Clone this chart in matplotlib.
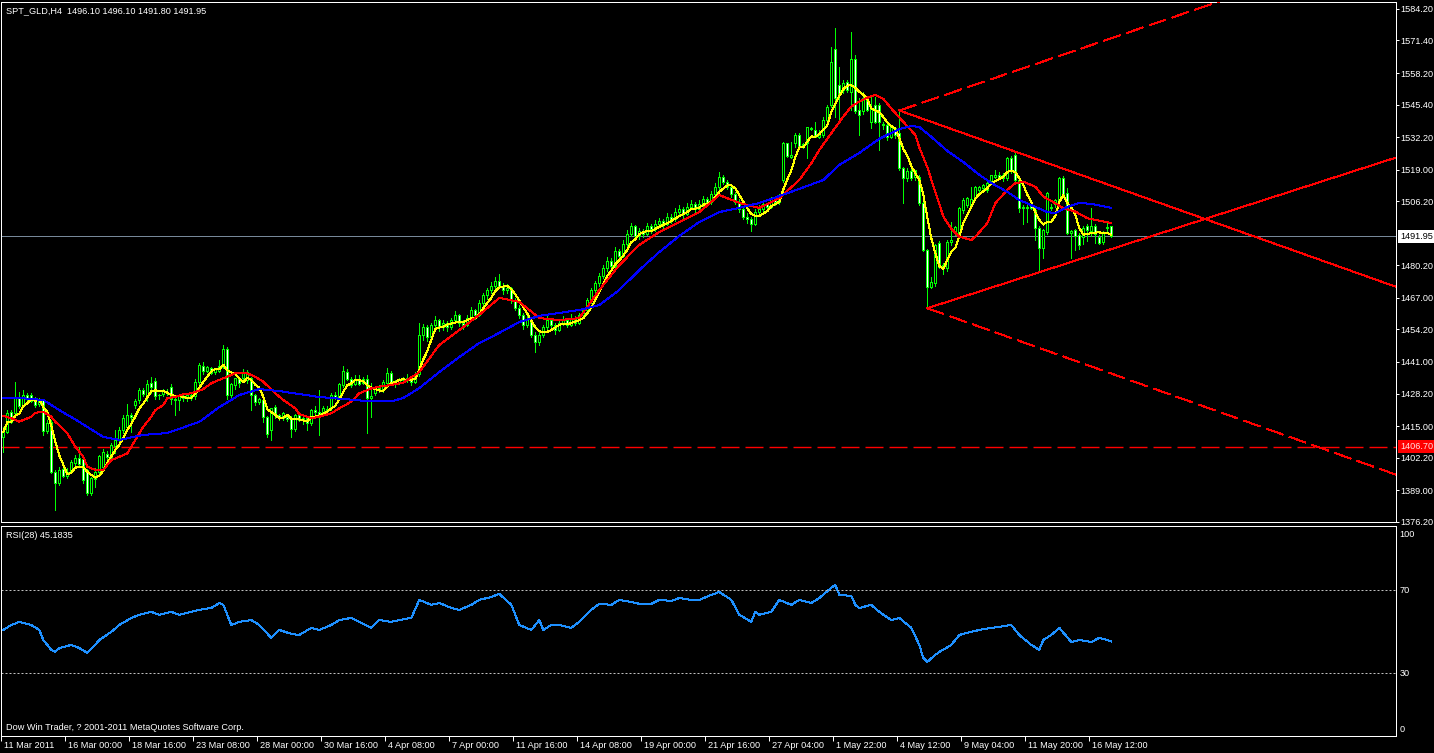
import pandas as pd
import matplotlib
matplotlib.use("Agg")
import matplotlib.pyplot as plt
import matplotlib.transforms as mtransforms
from matplotlib.patches import Rectangle

plt.rcParams['font.family'] = ['Liberation Sans', 'DejaVu Sans']
plt.rcParams['lines.scale_dashes'] = False

PX = 0.72  # one pixel in points at 100 dpi
FS = 6.6

title_text = "SPT_GLD,H4  1496.10 1496.10 1491.80 1491.95"
rsi_text = "RSI(28) 45.1835"
copy_text = "Dow Win Trader, ? 2001-2011 MetaQuotes Software Corp."

# H4 candles, one value per bar
opens = [
    1410.7, 1412.7, 1420.8, 1420.2, 1426.9, 1423.3, 1427.6, 1427.8, 1425.3, 1423.8,
    1425.5, 1413.0, 1416.7, 1396.5, 1392.0, 1397.6, 1394.8, 1396.5, 1400.2, 1401.9,
    1401.8, 1397.2, 1387.7, 1393.5, 1396.5, 1398.5, 1403.6, 1402.6, 1407.0, 1409.4,
    1413.4, 1414.8, 1419.5, 1423.5, 1425.6, 1429.6, 1427.0, 1432.5, 1433.4, 1427.5,
    1428.0, 1429.0, 1431.0, 1426.0, 1425.5, 1427.0, 1426.5, 1427.5, 1427.0, 1433.0,
    1439.5, 1437.5, 1438.4, 1436.8, 1437.5, 1439.1, 1446.3, 1427.6, 1431.7, 1434.4,
    1434.4, 1433.7, 1434.4, 1427.6, 1424.9, 1425.6, 1418.6, 1413.4, 1422.9, 1419.5,
    1418.4, 1418.6, 1418.2, 1413.7, 1419.5, 1417.5, 1418.1, 1416.1, 1421.6, 1420.8,
    1419.5, 1422.0, 1422.2, 1427.6, 1426.9, 1431.7, 1437.1, 1434.0, 1432.0, 1433.5,
    1432.5, 1434.0, 1426.3, 1428.3, 1430.3, 1429.6, 1432.3, 1436.7, 1432.3, 1433.0,
    1433.8, 1434.5, 1434.0, 1433.0, 1436.0, 1452.0, 1455.0, 1451.0, 1456.0, 1458.0,
    1455.0, 1457.0, 1455.0, 1458.0, 1460.0, 1457.0, 1456.0, 1459.0, 1462.0, 1460.0,
    1465.0, 1468.0, 1470.0, 1472.0, 1474.0, 1472.0, 1470.0, 1471.0, 1466.0, 1463.0,
    1460.0, 1456.0, 1458.0, 1452.0, 1449.0, 1452.0, 1455.0, 1458.0, 1456.0, 1454.0,
    1457.0, 1458.0, 1456.0, 1459.0, 1457.0, 1460.0, 1462.0, 1466.0, 1470.0, 1473.0,
    1476.0, 1479.0, 1482.0, 1480.0, 1486.0, 1484.0, 1489.0, 1493.0, 1496.0, 1492.0,
    1494.0, 1493.0, 1496.0, 1495.0, 1497.0, 1498.0, 1497.0, 1500.0, 1499.0, 1502.0,
    1503.0, 1501.0, 1504.0, 1505.0, 1503.0, 1505.0, 1507.0, 1506.0, 1509.0, 1512.0,
    1516.0, 1514.0, 1512.0, 1509.0, 1506.0, 1503.0, 1500.0, 1499.0, 1497.0, 1502.0,
    1503.0, 1505.0, 1504.0, 1507.0, 1506.0, 1514.8, 1529.7, 1524.3, 1529.7, 1533.1,
    1528.3, 1529.7, 1536.0, 1535.1, 1532.4, 1533.1, 1539.2, 1545.3, 1567.8, 1553.4,
    1551.3, 1554.7, 1550.7, 1563.8, 1543.2, 1542.6, 1548.0, 1538.5, 1545.3, 1545.3,
    1537.0, 1537.1, 1532.4, 1535.8, 1533.8, 1519.6, 1515.5, 1518.5, 1515.9, 1516.2,
    1505.4, 1486.4, 1471.6, 1472.9, 1489.1, 1479.7, 1479.0, 1489.8, 1493.2, 1493.2,
    1502.7, 1504.7, 1504.7, 1508.1, 1510.8, 1511.5, 1510.8, 1514.2, 1516.0, 1516.9,
    1515.5, 1515.5, 1523.6, 1525.0, 1514.8, 1503.3, 1504.0, 1504.7, 1502.7, 1495.2,
    1487.1, 1493.9, 1504.0, 1505.0, 1506.7, 1515.5, 1509.4, 1493.5, 1494.5, 1492.5,
    1491.5, 1496.0, 1494.3, 1496.2, 1491.8, 1489.5, 1495.2, 1496.10,
]
highs = [
    1414.8, 1421.5, 1421.5, 1432.7, 1429.0, 1429.6, 1428.6, 1428.3, 1426.9, 1426.3,
    1426.0, 1417.5, 1417.5, 1397.2, 1398.5, 1397.9, 1397.9, 1401.2, 1403.3, 1406.4,
    1402.3, 1397.5, 1394.5, 1397.9, 1403.3, 1405.7, 1405.0, 1408.0, 1413.4, 1414.8,
    1419.5, 1424.0, 1420.5, 1426.0, 1430.5, 1430.5, 1433.7, 1435.0, 1434.5, 1428.0,
    1430.0, 1430.0, 1432.0, 1427.0, 1428.0, 1428.5, 1428.0, 1428.5, 1434.0, 1440.5,
    1441.0, 1439.5, 1439.0, 1438.6, 1441.8, 1447.9, 1447.2, 1432.5, 1434.5, 1435.0,
    1438.0, 1437.8, 1435.0, 1428.0, 1426.5, 1426.0, 1419.0, 1422.5, 1423.6, 1420.0,
    1420.8, 1419.5, 1419.0, 1420.0, 1420.5, 1419.0, 1418.5, 1422.0, 1423.0, 1429.6,
    1423.0, 1423.0, 1428.3, 1429.0, 1432.5, 1439.4, 1438.0, 1434.8, 1435.7, 1435.7,
    1434.8, 1435.7, 1432.3, 1431.0, 1431.5, 1433.7, 1438.4, 1437.5, 1433.5, 1434.5,
    1435.0, 1436.0, 1435.0, 1437.0, 1457.0, 1456.5, 1456.0, 1457.0, 1459.5, 1458.5,
    1458.0, 1457.5, 1459.0, 1461.5, 1460.5, 1458.0, 1460.0, 1463.5, 1462.5, 1466.0,
    1469.0, 1471.0, 1473.5, 1475.5, 1476.5, 1473.0, 1472.5, 1471.5, 1467.0, 1464.0,
    1461.0, 1459.5, 1458.5, 1453.0, 1453.5, 1456.0, 1459.5, 1458.5, 1457.0, 1458.0,
    1459.5, 1458.5, 1460.5, 1459.5, 1461.0, 1463.0, 1467.0, 1471.0, 1474.0, 1477.0,
    1480.5, 1483.5, 1483.0, 1487.5, 1487.0, 1490.5, 1494.5, 1497.5, 1496.5, 1495.5,
    1495.0, 1497.5, 1497.0, 1498.5, 1499.5, 1499.0, 1501.5, 1501.0, 1503.5, 1504.5,
    1504.0, 1505.5, 1506.5, 1506.0, 1506.5, 1508.5, 1508.0, 1510.5, 1513.5, 1518.0,
    1517.0, 1515.0, 1512.5, 1510.0, 1507.0, 1504.0, 1501.5, 1500.0, 1503.0, 1504.5,
    1506.0, 1505.5, 1508.0, 1507.5, 1509.0, 1530.4, 1530.0, 1530.4, 1533.8, 1533.8,
    1529.7, 1536.5, 1536.5, 1538.5, 1535.1, 1540.5, 1545.3, 1568.9, 1576.4, 1560.8,
    1555.4, 1555.4, 1575.0, 1565.5, 1548.0, 1550.7, 1548.6, 1548.6, 1548.6, 1546.0,
    1538.5, 1538.0, 1537.0, 1536.5, 1543.0, 1520.2, 1519.6, 1520.0, 1519.0, 1516.9,
    1506.0, 1487.0, 1475.6, 1489.0, 1490.0, 1481.0, 1490.5, 1497.9, 1496.0, 1504.0,
    1507.4, 1508.0, 1512.1, 1512.5, 1512.5, 1513.0, 1515.0, 1517.0, 1518.9, 1518.0,
    1517.5, 1524.0, 1524.5, 1526.3, 1515.5, 1504.5, 1505.0, 1506.5, 1503.5, 1496.0,
    1495.0, 1510.0, 1505.0, 1507.0, 1516.0, 1516.5, 1511.4, 1494.5, 1495.0, 1493.5,
    1496.0, 1496.8, 1503.3, 1496.8, 1492.5, 1494.0, 1497.9, 1496.10,
]
lows = [
    1404.6, 1412.1, 1416.1, 1419.5, 1422.2, 1422.9, 1424.2, 1424.9, 1422.9, 1423.2,
    1411.4, 1412.1, 1395.8, 1381.0, 1391.2, 1394.2, 1393.8, 1395.8, 1399.2, 1398.5,
    1391.8, 1387.0, 1387.0, 1390.4, 1395.8, 1397.2, 1401.5, 1402.0, 1404.0, 1408.0,
    1412.0, 1414.0, 1412.7, 1422.5, 1424.5, 1427.0, 1425.0, 1428.5, 1426.0, 1426.0,
    1427.0, 1427.5, 1424.0, 1419.5, 1421.5, 1425.0, 1425.0, 1425.5, 1426.0, 1432.0,
    1436.0, 1437.0, 1436.0, 1436.0, 1437.0, 1438.5, 1426.0, 1425.6, 1430.0, 1431.0,
    1433.0, 1432.5, 1421.5, 1423.6, 1424.0, 1416.8, 1410.7, 1409.4, 1418.2, 1417.5,
    1417.6, 1417.0, 1410.7, 1413.0, 1417.0, 1416.0, 1413.4, 1415.5, 1420.0, 1411.4,
    1419.0, 1420.0, 1421.5, 1426.0, 1426.0, 1431.0, 1433.5, 1431.0, 1431.5, 1431.5,
    1432.0, 1412.3, 1418.8, 1427.5, 1428.8, 1429.0, 1432.0, 1431.5, 1431.0, 1432.0,
    1432.5, 1433.0, 1431.5, 1432.5, 1435.5, 1450.0, 1449.5, 1450.5, 1455.0, 1453.5,
    1454.0, 1453.5, 1454.5, 1457.0, 1455.5, 1454.5, 1455.5, 1458.5, 1458.5, 1459.5,
    1464.0, 1466.5, 1469.0, 1471.0, 1471.0, 1468.5, 1469.0, 1465.0, 1462.0, 1459.0,
    1454.5, 1455.0, 1451.0, 1445.0, 1448.0, 1451.0, 1454.0, 1455.0, 1452.5, 1453.5,
    1456.0, 1455.0, 1455.5, 1456.0, 1456.5, 1459.0, 1461.5, 1465.0, 1469.0, 1472.0,
    1475.0, 1478.0, 1478.5, 1479.5, 1482.5, 1483.5, 1488.0, 1492.0, 1490.5, 1491.0,
    1491.5, 1492.5, 1493.5, 1494.0, 1496.0, 1495.5, 1496.5, 1497.5, 1498.0, 1501.0,
    1499.5, 1500.5, 1503.0, 1501.5, 1502.0, 1504.0, 1504.5, 1505.0, 1508.0, 1511.0,
    1513.0, 1511.0, 1508.0, 1505.0, 1502.0, 1499.0, 1497.5, 1494.0, 1496.5, 1501.0,
    1502.0, 1502.5, 1503.5, 1504.5, 1505.0, 1514.0, 1524.3, 1523.6, 1528.3, 1527.7,
    1527.7, 1523.6, 1535.0, 1532.4, 1532.0, 1532.4, 1538.5, 1544.6, 1540.5, 1538.5,
    1550.0, 1550.5, 1543.2, 1542.0, 1533.1, 1541.5, 1542.6, 1535.8, 1538.0, 1527.0,
    1535.5, 1531.1, 1532.0, 1531.7, 1519.0, 1505.4, 1514.5, 1514.8, 1514.8, 1504.7,
    1486.0, 1462.8, 1470.9, 1472.0, 1479.0, 1476.5, 1478.0, 1488.5, 1492.5, 1492.5,
    1501.5, 1504.0, 1504.0, 1507.5, 1509.5, 1510.5, 1510.0, 1513.5, 1515.5, 1515.5,
    1514.5, 1515.0, 1517.5, 1514.0, 1502.0, 1497.0, 1497.9, 1503.0, 1490.5, 1477.6,
    1483.0, 1493.0, 1502.5, 1504.0, 1506.0, 1508.0, 1493.0, 1483.0, 1486.5, 1487.0,
    1489.0, 1490.0, 1492.0, 1489.1, 1488.8, 1489.0, 1494.0, 1491.80,
]
closes = [
    1412.7, 1420.4, 1416.8, 1426.9, 1423.3, 1427.8, 1426.4, 1425.0, 1423.6, 1425.6,
    1413.2, 1416.4, 1396.5, 1392.0, 1397.2, 1394.7, 1396.5, 1400.3, 1401.9, 1399.5,
    1393.1, 1387.7, 1393.8, 1396.5, 1402.9, 1404.3, 1402.6, 1407.3, 1409.4, 1413.4,
    1418.1, 1419.5, 1418.6, 1425.0, 1429.6, 1428.0, 1432.0, 1431.0, 1427.0, 1427.2,
    1429.2, 1428.5, 1426.0, 1425.5, 1427.0, 1426.5, 1427.5, 1426.5, 1433.0, 1439.8,
    1437.5, 1438.9, 1436.5, 1438.2, 1439.4, 1446.3, 1427.6, 1432.0, 1434.4, 1432.3,
    1437.1, 1437.1, 1427.6, 1424.9, 1426.0, 1418.6, 1411.8, 1422.2, 1419.5, 1418.2,
    1420.2, 1417.7, 1413.7, 1419.5, 1417.5, 1418.1, 1416.3, 1421.6, 1420.8, 1419.0,
    1422.2, 1421.0, 1427.6, 1426.5, 1432.0, 1437.5, 1434.0, 1431.7, 1433.5, 1432.0,
    1434.2, 1426.3, 1427.0, 1430.3, 1429.5, 1433.0, 1436.7, 1432.3, 1433.0, 1433.8,
    1434.5, 1434.0, 1433.0, 1436.0, 1452.0, 1455.0, 1451.0, 1456.0, 1458.0, 1455.0,
    1457.0, 1455.0, 1458.0, 1460.0, 1457.0, 1456.0, 1459.0, 1462.0, 1460.0, 1465.0,
    1468.0, 1470.0, 1472.0, 1474.0, 1472.0, 1470.0, 1471.0, 1466.0, 1463.0, 1460.0,
    1456.0, 1458.0, 1452.0, 1449.0, 1452.0, 1455.0, 1458.0, 1456.0, 1454.0, 1457.0,
    1458.0, 1456.0, 1459.0, 1457.0, 1460.0, 1462.0, 1466.0, 1470.0, 1473.0, 1476.0,
    1479.0, 1482.0, 1480.0, 1486.0, 1484.0, 1489.0, 1493.0, 1496.0, 1492.0, 1494.0,
    1493.0, 1496.0, 1495.0, 1497.0, 1498.0, 1497.0, 1500.0, 1499.0, 1502.0, 1503.0,
    1501.0, 1504.0, 1505.0, 1503.0, 1505.0, 1507.0, 1506.0, 1509.0, 1512.0, 1516.0,
    1514.0, 1512.0, 1509.0, 1506.0, 1503.0, 1500.0, 1499.0, 1497.0, 1502.0, 1503.0,
    1505.0, 1504.0, 1507.0, 1506.0, 1508.0, 1529.7, 1524.5, 1525.0, 1533.1, 1528.0,
    1529.5, 1536.5, 1535.4, 1532.4, 1533.1, 1539.2, 1544.6, 1562.8, 1548.0, 1549.3,
    1554.0, 1551.3, 1563.8, 1542.6, 1541.2, 1548.0, 1543.2, 1543.9, 1538.5, 1538.5,
    1537.5, 1532.4, 1536.5, 1533.1, 1519.6, 1515.5, 1518.5, 1515.6, 1519.0, 1505.4,
    1486.4, 1471.6, 1473.6, 1488.5, 1479.7, 1480.3, 1489.8, 1490.5, 1495.9, 1503.3,
    1506.7, 1507.4, 1507.0, 1512.1, 1512.0, 1512.8, 1513.5, 1516.9, 1516.9, 1516.2,
    1516.9, 1523.6, 1518.9, 1514.8, 1503.3, 1504.0, 1503.5, 1503.3, 1495.2, 1487.1,
    1494.5, 1509.4, 1503.3, 1506.7, 1515.5, 1508.8, 1493.2, 1494.0, 1492.0, 1488.5,
    1495.5, 1494.4, 1496.2, 1492.8, 1489.1, 1493.2, 1495.9, 1491.95,
]

# moving averages (bar index, price)
red_bars = [0, 2, 4, 7, 8, 10, 12, 13, 16, 18, 20, 21, 23, 25, 27, 31, 33, 35, 37, 38,
            40, 41, 43, 45, 47, 50, 52, 55, 58, 61, 63, 65, 68, 70, 73, 74, 77, 79, 82, 84,
            87, 89, 92, 94, 97, 100, 104, 109, 114, 119, 124, 129, 134, 139, 144, 149, 154, 159, 164, 169,
            174, 179, 184, 189, 194, 199, 202, 204, 207, 210, 212, 214, 217, 218, 220, 222, 225, 228, 229, 231,
            233, 235, 237, 239, 242, 243, 246, 248, 251, 253, 255, 258, 260, 263, 265, 268, 271, 274, 277]
red_vals = [1419.1, 1418.2, 1416.8, 1418.8, 1420.4, 1420.8, 1418.8, 1416.8, 1412.1, 1406.6,
            1402.6, 1398.5, 1397.2, 1397.2, 1401.2, 1403.9, 1409.4, 1414.7, 1418.8, 1421.5,
            1423.5, 1426.3, 1426.9, 1427.9, 1428.3, 1430.0, 1432.4, 1434.4, 1436.4, 1436.4,
            1435.0, 1433.0, 1428.3, 1425.6, 1422.2, 1419.9, 1418.2, 1418.8, 1420.2, 1422.2,
            1424.9, 1428.3, 1430.3, 1431.0, 1431.7, 1432.6, 1436.9, 1447.9, 1454.0, 1460.1,
            1467.0, 1465.4, 1458.8, 1458.0, 1458.8, 1470.2, 1480.3, 1488.5, 1493.7, 1497.8,
            1501.8, 1508.7, 1505.5, 1503.5, 1507.5, 1514.8, 1521.6, 1527.0, 1533.8, 1540.5,
            1544.6, 1546.6, 1548.9, 1549.3, 1547.7, 1543.8, 1538.4, 1533.1, 1528.0, 1520.0,
            1510.0, 1500.0, 1495.0, 1491.8, 1490.5, 1491.8, 1497.3, 1505.4, 1510.8, 1513.5,
            1514.1, 1512.1, 1508.1, 1505.4, 1503.3, 1502.0, 1499.3, 1498.3, 1497.3]
blue_bars = [0, 4, 10, 14, 19, 25, 29, 35, 41, 49, 54, 59, 64, 69, 74, 79, 85, 92, 97, 100,
             104, 109, 114, 119, 124, 129, 134, 139, 144, 149, 154, 159, 164, 169, 174, 179, 184, 189, 194, 199,
             205, 209, 214, 219, 224, 227, 229, 232, 236, 240, 244, 247, 251, 254, 258, 261, 263, 266, 269, 272, 277]
blue_vals = [1426.4, 1426.4, 1425.6, 1421.5, 1416.7, 1410.6, 1409.4, 1411.4, 1412.2, 1416.7,
             1422.7, 1427.6, 1430.0, 1429.2, 1428.0, 1426.8, 1426.0, 1425.0, 1425.0, 1426.4,
             1430.4, 1436.9, 1443.0, 1448.7, 1452.8, 1457.2, 1459.7, 1460.9, 1462.1, 1464.1,
             1470.2, 1478.3, 1485.6, 1492.1, 1497.8, 1501.8, 1503.5, 1505.5, 1508.3, 1511.2,
             1514.8, 1520.9, 1525.8, 1531.5, 1535.5, 1536.7, 1536.3, 1532.3, 1526.6, 1522.1,
             1516.9, 1513.6, 1510.0, 1506.7, 1503.9, 1501.8, 1501.4, 1503.9, 1505.5, 1505.1, 1503.5]

# RSI(28)
rsi_bars = [0, 2, 4, 7, 9, 10, 12, 13, 14, 17, 19, 21, 23, 24, 27, 29, 32, 34, 37, 39,
            42, 44, 47, 49, 52, 54, 55, 57, 59, 62, 64, 67, 69, 72, 74, 77, 79, 82, 84, 87,
            89, 92, 94, 97, 99, 102, 104, 107, 109, 112, 114, 117, 119, 122, 124, 127, 129, 132, 134, 135,
            137, 139, 142, 144, 147, 149, 152, 154, 157, 159, 162, 164, 167, 169, 172, 174, 177, 179, 182, 184,
            187, 188, 189, 192, 194, 197, 199, 202, 204, 207, 208, 209, 212, 213, 214, 217, 219, 222, 224, 227,
            229, 230, 231, 233, 234, 237, 239, 242, 244, 247, 249, 252, 254, 257, 259, 260, 262, 263, 264, 267,
            269, 272, 274, 276, 277]
rsi_vals = [50.7, 53.1, 54.6, 53.1, 50.7, 45.9, 41.1, 40.1, 42.0, 43.5, 42.0, 39.6, 43.5, 45.9, 49.8, 53.1, 56.5, 58.0, 59.4, 58.0,
            59.4, 58.0, 59.4, 60.4, 61.3, 63.7, 62.8, 53.1, 54.6, 55.5, 53.1, 46.9, 50.7, 48.8, 48.3, 51.7, 50.7, 53.1, 55.5, 56.5,
            54.6, 51.7, 55.5, 54.6, 55.5, 56.5, 65.2, 62.8, 63.7, 61.3, 60.4, 62.8, 65.2, 66.6, 68.1, 62.8, 53.1, 50.7, 55.5, 50.7,
            53.1, 53.1, 51.7, 54.6, 60.4, 63.3, 62.8, 65.2, 64.2, 63.3, 63.3, 65.2, 64.7, 66.1, 65.2, 65.2, 67.6, 69.0, 65.2, 58.0,
            54.6, 59.4, 58.0, 59.4, 65.2, 62.8, 65.2, 63.7, 66.1, 71.0, 72.4, 67.6, 67.1, 62.8, 61.3, 62.8, 59.4, 55.5, 56.5, 51.7,
            43.5, 37.2, 35.3, 38.7, 40.1, 43.5, 48.3, 49.8, 50.7, 51.7, 52.2, 53.1, 48.3, 43.5, 41.1, 45.9, 48.3, 50.0, 51.7, 44.9,
            45.9, 44.9, 46.9, 45.9, 45.18]

# drawn objects: trendlines given by two anchor points (bar, price)
tri_upper = ((224, 1543.0), (253, 1526.3))
tri_lower = ((231, 1462.8), (259, 1477.4))
ray_upper = ((224, 1543.0), (277, 1572.3))
ray_lower = ((231, 1462.8), (277, 1436.3))
bid_price = 1491.95
level_price = 1406.70

y_ticks = [1584.20, 1571.40, 1558.20, 1545.40, 1532.20, 1519.00, 1506.20, 1480.20,
           1467.00, 1454.20, 1441.00, 1428.20, 1415.00, 1402.20, 1389.00, 1376.20]
rsi_levels = [100, 70, 30, 0]
x_label_bars = list(range(0, 273, 16))
x_labels = ["11 Mar 2011", "16 Mar 00:00", "18 Mar 16:00", "23 Mar 08:00", "28 Mar 00:00",
            "30 Mar 16:00", "4 Apr 08:00", "7 Apr 00:00", "11 Apr 16:00", "14 Apr 08:00",
            "19 Apr 00:00", "21 Apr 16:00", "27 Apr 04:00", "1 May 22:00", "4 May 12:00",
            "9 May 04:00", "11 May 20:00", "16 May 12:00"]

W, H = 1434, 753
fig = plt.figure(figsize=(W / 100, H / 100), dpi=100, facecolor='black')
ax = fig.add_axes([1 / W, 1 - 522 / H, 1394.7 / W, 520 / H], facecolor='black')
rax = fig.add_axes([1 / W, 1 - 736 / H, 1394.7 / W, 210 / H], facecolor='black')

XMIN, XMAX = -0.575, 348.1
LIME = '#00FF00'

# candles
n = len(closes)
ax.vlines(range(n), lows, highs, color=LIME, lw=PX, antialiased=False, zorder=3)
for i in range(n):
    o, c = opens[i], closes[i]
    fc = 'black' if c >= o else 'white'
    h = abs(c - o)
    if h < 0.3:
        ax.hlines(o, i - 0.3, i + 0.3, color=LIME, lw=PX, antialiased=False, zorder=4)
    else:
        ax.add_patch(Rectangle((i - 0.25, min(o, c)), 0.5, h, facecolor=fc, edgecolor=LIME,
                               lw=PX, antialiased=False, zorder=4))

# moving averages
yellow = pd.Series(closes).rolling(5, min_periods=1).mean()
ax.plot(range(n), yellow, color='#FFFF00', lw=PX, antialiased=False, zorder=5)
ax.plot(red_bars, red_vals, color='#FF0000', lw=PX, antialiased=False, zorder=5)
ax.plot(blue_bars, blue_vals, color='#0000FF', lw=PX, antialiased=False, zorder=5)


def ray(p1, p2):
    (b1, v1), (b2, v2) = p1, p2
    k = (v2 - v1) / (b2 - b1)
    return [b1, XMAX], [v1, v1 + k * (XMAX - b1)]


dash = (18 * PX, 6 * PX)
for a, b in (tri_upper, tri_lower):
    xs, ys = ray(a, b)
    ax.plot(xs, ys, color='#FF0000', lw=PX, antialiased=False, zorder=6)
for a, b in (ray_upper, ray_lower):
    xs, ys = ray(a, b)
    ax.plot(xs, ys, color='#FF0000', lw=PX, dashes=dash, antialiased=False, zorder=6)

ax.axhline(bid_price, color='#778899', lw=PX, zorder=2)
ax.axhline(level_price, color='#FF0000', lw=1.4 * PX, dashes=dash, zorder=2)

ax.set_xlim(XMIN, XMAX)
ax.set_ylim(1376.1, 1587.0)
ax.set_xticks([])
ax.yaxis.tick_right()
ax.set_yticks(y_ticks)
ax.set_yticklabels([f"{v:.2f}" for v in y_ticks])
ax.tick_params(axis='y', colors='white', length=3 * PX, width=PX, pad=2 * PX, labelsize=FS)

yb = mtransforms.blended_transform_factory(ax.transAxes, ax.transData)
ax.text(1.0032, bid_price, f"{bid_price:.2f}", transform=yb, ha='left', va='center',
        color='black', fontsize=FS, zorder=10,
        bbox=dict(boxstyle='square,pad=0.2', fc='white', ec='none'))
ax.text(1.0032, level_price, f"{level_price:.2f}", transform=yb, ha='left', va='center',
        color='#FFE0E0', fontsize=FS, zorder=10,
        bbox=dict(boxstyle='square,pad=0.2', fc='#FF0000', ec='none'))

# RSI panel
rax.plot(rsi_bars, rsi_vals, color='#1E90FF', lw=PX, antialiased=False)
for lvl in (70, 30):
    rax.axhline(lvl, color='#C0C0C0', lw=PX, dashes=(2 * PX, 2 * PX))
rax.set_xlim(XMIN, XMAX)
rax.set_ylim(-0.4, 100.8)
rax.yaxis.tick_right()
# MT4 nudges the 100 and 0 labels inside the panel
rax.set_yticks([97.4, 70, 30, 3.0])
rax.set_yticklabels([str(v) for v in rsi_levels])
rax.tick_params(axis='y', colors='white', length=0, pad=4 * PX, labelsize=FS)
rax.set_xticks([b - 0.575 for b in x_label_bars])
rax.set_xticklabels([])
rax.tick_params(axis='x', colors='white', length=5 * PX, width=PX)

xt = mtransforms.blended_transform_factory(rax.transData, fig.transFigure)
for b, lab in zip(x_label_bars, x_labels):
    rax.text(b + 0.1, 1 - 746 / H, lab, transform=xt, ha='left', va='center',
             color='white', fontsize=FS, clip_on=False)

for a in (ax, rax):
    for s in a.spines.values():
        s.set_color('white')
        s.set_linewidth(PX)

fig.text(6 / W, 1 - 11 / H, title_text, color='white', fontsize=FS, va='center')
fig.text(6 / W, 1 - 535 / H, rsi_text, color='white', fontsize=FS, va='center')
fig.text(6 / W, 1 - 727 / H, copy_text, color='white', fontsize=FS, va='center')

fig.savefig('out.png', dpi=100, facecolor='black')
